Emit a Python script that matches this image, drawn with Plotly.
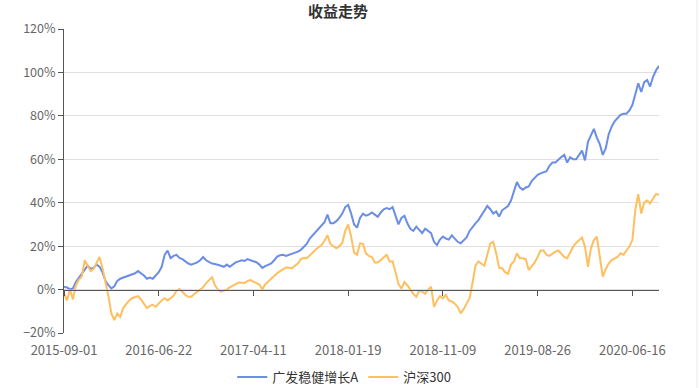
import plotly.graph_objects as go
import pandas as pd

# ---------------- data ----------------
tick_labels = ["2015-09-01", "2016-06-22", "2017-04-11", "2018-01-19",
               "2018-11-09", "2019-08-26", "2020-06-16"]
last_date = "2020-09-04"

fund_name = "广发稳健增长A"
index_name = "沪深300"

fund_pct = [1.3, 1.0, 0.2, 0.5, 3.5, 5.5, 7, 9, 11, 9.5,
            10, 11.5, 10.5, 8, 4, 2, 0.5, 1.5, 4, 5,
            5.5, 6, 6.5, 6.8, 7.5, 8.5, 7.5, 6.5, 5, 5.5,
            5, 6.5, 8, 10.5, 16, 18, 14.5, 15.5, 16, 14.6,
            14, 13, 12, 11.5, 12, 12.5, 13.5, 15, 13.5, 12.8,
            12, 11.8, 11.5, 11, 10.5, 11.5, 10.5, 11.5, 12.5, 13,
            13.5, 13.2, 14, 13.5, 13, 12.6, 11.5, 10, 10.8, 11.5,
            12, 13.5, 15.2, 15.8, 16, 15.5, 16, 16.2, 17, 17.5,
            18.3, 19.5, 21, 23.5, 25, 26.5, 27.5, 29.5, 31, 34.5,
            30.5, 30.5, 31.5, 33, 35, 38, 39, 35, 30, 28.5,
            33, 35, 34, 34.5, 35.5, 34.5, 33.5, 35.5, 37, 37.5,
            37, 38, 33.5, 30, 33, 34, 30.5, 28, 27, 29,
            27.5, 26, 28, 27, 26, 22, 20.5, 23, 24.4, 23.5,
            23, 25, 23.5, 22, 21.3, 22.5, 24, 27, 29, 30.5,
            32, 34, 36.5, 38.5, 37, 35, 36, 33.6, 36.5, 37.5,
            38.5, 41, 45, 49.5, 47, 46, 47, 47.5, 50, 51.5,
            52.8, 53.5, 54, 54.5, 57, 58.5, 58.5, 60, 61, 62,
            58.5, 61, 60, 60, 62, 64, 59.5, 68, 71, 74,
            70, 67, 62, 65, 71.5, 75, 77.5, 79, 80.5, 81,
            81, 82.5, 85, 90, 95, 91, 95.5, 96.5, 93.5, 98,
            101, 103]

index_pct = [-1.7, -5, 0, -4.5, 2, 4.5, 6, 13.5, 11, 8.5,
             9.5, 12, 15, 10, 4, -3, -11, -14, -11, -12.5,
             -8.5, -6.5, -5, -4, -3.5, -3, -4.5, -6.5, -8.5, -7.5,
             -7, -7.9, -6.3, -5, -4, -5, -4, -2.8, -0.5, 0.3,
             -1, -2.5, -3.3, -3.3, -2, -1, 0, 1, 3, 4.5,
             5.7, 2, 0, -1, -0.5, 0, 1, 1.6, 2.5, 3.2,
             3, 3, 4, 4.4, 3.7, 3, 2.3, 0.1, 2.5, 3.7,
             5, 6.5, 7.5, 8.5, 9.5, 10.2, 10, 9.8, 11, 12,
             14, 14.5, 14.4, 15.5, 17, 18.5, 19.5, 20.5, 22.5, 25,
             21, 19.8, 19, 20, 21.5, 27, 30, 24.4, 17, 16,
             21.3, 21, 16.7, 15.5, 15, 12.5, 12.5, 13.6, 15, 16,
             12.9, 13, 8, 2.5, 0.5, 3.5, 2, 0, -2, -3.3,
             -0.5, -1, -2, 0, 1.3, -7.9, -5, -3, -4, -2.5,
             -5, -5.5, -6.5, -8, -11, -9, -6.3, -4, 3, 11,
             13, 12, 11, 16, 21.3, 22, 16.7, 10, 9.8, 8,
             7.3, 11.5, 13, 16.7, 14.4, 14.4, 14, 9, 10.5, 12.5,
             15, 18, 18, 16, 15.5, 16.7, 17.5, 18, 16.5, 15,
             14.4, 17, 19.8, 21.5, 23, 24, 19.8, 10.5, 19, 22.8,
             24.4, 16, 6, 9.5, 12, 13.6, 14.5, 15, 16.7, 16,
             18, 19.8, 22.8, 36.7, 44, 35, 40, 41, 39.7, 42,
             44, 43.6]

# category dates (sampled trading dates between the labelled dates)
dates = []
for a, b in zip(tick_labels[:-1], tick_labels[1:]):
    dates += [d.strftime("%Y-%m-%d") for d in pd.date_range(a, b, periods=33)[:-1]]
dates += [d.strftime("%Y-%m-%d") for d in pd.date_range(tick_labels[-1], last_date, periods=10)]

# ---------------- style ----------------
BLUE = "#6A8DE6"
ORANGE = "#FFBF5E"
FONT = "Noto Sans CJK SC"
AXIS = "#555555"
LABEL = "#666666"

fig = go.Figure()
fig.add_trace(go.Scatter(x=dates, y=fund_pct, mode="lines", name=fund_name,
                         line=dict(color=BLUE, width=2)))
fig.add_trace(go.Scatter(x=dates, y=index_pct, mode="lines", name=index_name,
                         line=dict(color=ORANGE, width=2)))

fig.update_layout(
    width=700, height=388,
    margin=dict(l=64, r=41, t=29, b=55, autoexpand=False),
    paper_bgcolor="white", plot_bgcolor="white",
    font=dict(family=FONT, size=13, color=LABEL),
    title=dict(text="<b>收益走势</b>", x=0.4605, xref="paper", xanchor="center",
               y=0.971, yref="container", yanchor="middle",
               font=dict(family=FONT, size=15, color="#333333")),
    showlegend=True,
    legend=dict(orientation="h", x=0.471, xanchor="center", y=-0.145, yanchor="middle",
                font=dict(family=FONT, size=13, color="#333333"),
                itemwidth=30, bgcolor="rgba(0,0,0,0)"),
    xaxis=dict(type="category", range=[0, len(dates) - 1],
               anchor="free", position=20 / 140, automargin=False,
               showline=True, linecolor=AXIS, linewidth=1,
               ticks="outside", ticklen=5, tickcolor=AXIS,
               tickvals=tick_labels, ticktext=tick_labels,
               showgrid=False, zeroline=False,
               tickfont=dict(family=FONT, size=13, color=LABEL),
               ticklabelstandoff=44),
    yaxis=dict(range=[-20, 120], dtick=20, tick0=0, ticksuffix="%",
               automargin=False,
               showline=True, linecolor=AXIS, linewidth=1,
               ticks="outside", ticklen=5, tickcolor=AXIS,
               gridcolor="#E0E0E0", gridwidth=1, zeroline=False,
               tickfont=dict(family=FONT, size=12.5, color=LABEL)),
    hovermode="x unified",
)

fig.add_shape(type="line", xref="paper", yref="paper",
              x0=1.0639, x1=1.0639, y0=-0.19, y1=1.1,
              line=dict(color="#E8E8E8", width=1))

fig.write_html("out.html")
